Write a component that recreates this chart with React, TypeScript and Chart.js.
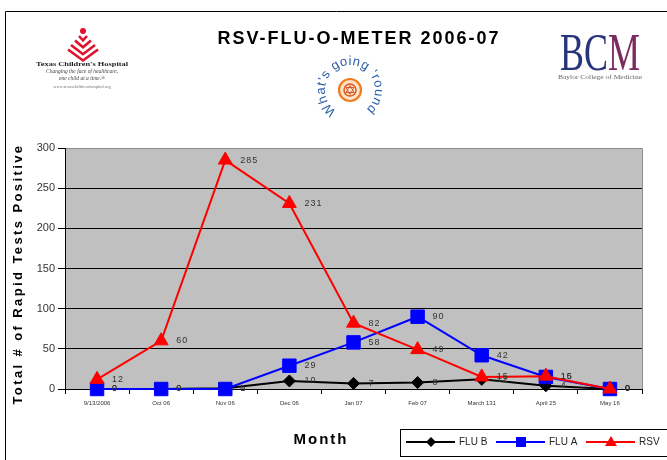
import React, { useEffect, useRef } from "react";
import { Chart, registerables } from "chart.js";
Chart.register(...registerables);

const categories = ["9/13/2006", "Oct 06", "Nov 06", "Dec 06", "Jan 07", "Feb 07", "March 131", "April 25", "May 16"];
const fluB = [0, 0, 1, 10, 7, 8, 12, 4, 0];
const fluA = [0, 0, 0, 29, 58, 90, 42, 15, 0];
const rsv = [12, 60, 285, 231, 82, 49, 15, 16, 0];
const yMin = 0;
const yMax = 300;
const yStep = 50;

const chartTitle = "RSV-FLU-O-METER 2006-07";
const yTitle = "Total # of Rapid Tests Positive";
const xTitle = "Month";
const seriesNames = ["FLU B", "FLU A", "RSV"];
const seriesColors = ["#000000", "#0000FF", "#FF0000"];

const bgPlugin = {
  id: "bgPlot",
  beforeDraw(chart: any) {
    const { ctx, chartArea: a } = chart;
    ctx.save();
    ctx.fillStyle = "#ffffff";
    ctx.fillRect(0, 0, chart.width, chart.height);
    ctx.fillStyle = "#C0C0C0";
    ctx.fillRect(a.left, a.top, a.right - a.left, a.bottom - a.top);
    ctx.strokeStyle = "#8c8c8c";
    ctx.lineWidth = 1;
    ctx.beginPath();
    ctx.moveTo(a.left, a.top + 0.5);
    ctx.lineTo(a.right + 0.5, a.top + 0.5);
    ctx.lineTo(a.right + 0.5, a.bottom);
    ctx.stroke();
    ctx.restore();
  },
};

const valueLabelPlugin = {
  id: "valueLabels",
  afterDatasetsDraw(chart: any) {
    const { ctx } = chart;
    ctx.save();
    ctx.font = "9px 'Liberation Sans', Arial, sans-serif";
    (ctx as any).letterSpacing = "1px";
    ctx.fillStyle = "#333333";
    ctx.textAlign = "left";
    ctx.textBaseline = "middle";
    chart.data.datasets.forEach((ds: any, i: number) => {
      const meta = chart.getDatasetMeta(i);
      meta.data.forEach((el: any, j: number) => {
        ctx.fillText(String(ds.data[j]), el.x + 15, el.y);
      });
    });
    ctx.restore();
  },
};

function drawMarker(ctx: CanvasRenderingContext2D, kind: number, x: number, y: number, color: string) {
  ctx.fillStyle = color;
  ctx.beginPath();
  if (kind === 0) {
    ctx.moveTo(x, y - 5);
    ctx.lineTo(x + 5, y);
    ctx.lineTo(x, y + 5);
    ctx.lineTo(x - 5, y);
  } else if (kind === 1) {
    ctx.rect(x - 5, y - 5, 10, 10);
  } else {
    ctx.moveTo(x, y - 6);
    ctx.lineTo(x + 6, y + 4);
    ctx.lineTo(x - 6, y + 4);
  }
  ctx.closePath();
  ctx.fill();
}

const decorPlugin = {
  id: "decor",
  afterDraw(chart: any) {
    const { ctx } = chart;
    ctx.save();
    ctx.strokeStyle = "#000";
    ctx.lineWidth = 1;
    ctx.beginPath();
    ctx.moveTo(5.5, 470);
    ctx.lineTo(5.5, 11.5);
    ctx.lineTo(680, 11.5);
    ctx.stroke();

    ctx.fillStyle = "#000";
    ctx.font = "bold 18px 'Liberation Sans', Arial, sans-serif";
    (ctx as any).letterSpacing = "2px";
    ctx.textAlign = "center";
    ctx.textBaseline = "middle";
    ctx.fillText(chartTitle, 359, 39);

    ctx.save();
    ctx.translate(18, 274);
    ctx.rotate(-Math.PI / 2);
    ctx.font = "bold 13px 'Liberation Sans', Arial, sans-serif";
    (ctx as any).letterSpacing = "2.4px";
    ctx.fillText(yTitle, 0, 0);
    ctx.restore();

    ctx.font = "bold 15px 'Liberation Sans', Arial, sans-serif";
    (ctx as any).letterSpacing = "2px";
    ctx.fillText(xTitle, 321, 440);

    (ctx as any).letterSpacing = "0px";
    ctx.strokeStyle = "#000";
    ctx.strokeRect(400.5, 429.5, 300, 27);
    const lx = [406, 496, 586];
    ctx.font = "10px 'Liberation Sans', Arial, sans-serif";
    ctx.textAlign = "left";
    for (let i = 0; i < 3; i++) {
      ctx.strokeStyle = seriesColors[i];
      ctx.lineWidth = 2;
      ctx.beginPath();
      ctx.moveTo(lx[i], 442);
      ctx.lineTo(lx[i] + 49, 442);
      ctx.stroke();
      drawMarker(ctx, i, lx[i] + 25, 442, seriesColors[i]);
      ctx.fillStyle = "#222";
      ctx.fillText(seriesNames[i], lx[i] + 53, 442);
    }
    ctx.restore();
  },
};

export default function App() {
  const ref = useRef<HTMLCanvasElement>(null);
  useEffect(() => {
    const chart = new Chart(ref.current as HTMLCanvasElement, {
      type: "line",
      data: {
        labels: categories,
        datasets: [
          {
            label: seriesNames[0],
            data: fluB,
            borderColor: seriesColors[0],
            backgroundColor: seriesColors[0],
            borderWidth: 2,
            pointStyle: "rectRot",
            pointRadius: 6,
            pointBorderWidth: 1,
            tension: 0,
            clip: false,
            order: 3,
          },
          {
            label: seriesNames[1],
            data: fluA,
            borderColor: seriesColors[1],
            backgroundColor: seriesColors[1],
            borderWidth: 2,
            pointStyle: "rect",
            pointRadius: 9.5,
            pointBorderWidth: 1,
            tension: 0,
            clip: false,
            order: 2,
          },
          {
            label: seriesNames[2],
            data: rsv,
            borderColor: seriesColors[2],
            backgroundColor: seriesColors[2],
            borderWidth: 2,
            pointStyle: "triangle",
            pointRadius: 8,
            pointBorderWidth: 1,
            tension: 0,
            clip: false,
            order: 1,
          },
        ] as any,
      },
      options: {
        animation: false,
        responsive: false,
        devicePixelRatio: 1,
        layout: { padding: { left: 15, right: 25, top: 148, bottom: 41 } },
        plugins: { legend: { display: false }, tooltip: { enabled: false }, title: { display: false } },
        scales: {
          x: {
            type: "category",
            offset: true,
            grid: { offset: true, drawOnChartArea: false, drawTicks: true, tickLength: 5, color: "#000" },
            border: { color: "#000", width: 1 },
            ticks: {
              font: { size: 6, family: "'Liberation Sans', Arial, sans-serif" },
              color: "#333",
              padding: 6,
              maxRotation: 0,
              autoSkip: false,
            },
            afterFit: (s: any) => {
              s.height = 30;
            },
          },
          y: {
            min: yMin,
            max: yMax,
            ticks: {
              stepSize: yStep,
              font: { size: 11, family: "'Liberation Sans', Arial, sans-serif" },
              color: "#333",
              padding: 3,
            },
            grid: {
              color: (c: any) => (c.tick && c.tick.value === yMax ? "#8c8c8c" : "#000"),
              tickColor: "#000",
              tickLength: 7,
              lineWidth: 1,
            },
            border: { color: "#000", width: 1 },
            afterFit: (s: any) => {
              s.width = 50;
            },
          },
        } as any,
      },
      plugins: [bgPlugin, valueLabelPlugin, decorPlugin],
    });
    return () => chart.destroy();
  }, []);

  const cx = 350;
  const cy = 90;
  const r = 25;
  const a1 = (122 * Math.PI) / 180;
  const a2 = (58 * Math.PI) / 180;
  const arcPath = `M ${cx + r * Math.cos(a1)} ${cy + r * Math.sin(a1)} A ${r} ${r} 0 1 1 ${cx + r * Math.cos(a2)} ${cy + r * Math.sin(a2)}`;

  return (
    <div style={{ position: "absolute", left: 0, top: 0, width: 667, height: 460, overflow: "hidden", background: "#fff" }}>
      <canvas ref={ref} width={667} height={460} style={{ position: "absolute", left: 0, top: 0 }} />
      <svg width={667} height={140} style={{ position: "absolute", left: 0, top: 0, pointerEvents: "none" }}>
        <circle cx={83} cy={31} r={3} fill="#E0112B" />
        {[4, 8, 12, 15].map((w, i) => {
          const yt = 36 + i * 4.5;
          return (
            <path
              key={i}
              d={`M ${83 - w} ${yt} L 83 ${yt + w * 0.6 + 2} L ${83 + w} ${yt}`}
              fill="none"
              stroke="#E0112B"
              strokeWidth={2.6}
            />
          );
        })}
        <text x={82} y={66} textAnchor="middle" fontFamily="'Liberation Serif', serif" fontWeight="bold" fontSize={6.5} fill="#222" textLength={92} lengthAdjust="spacingAndGlyphs">
          Texas Children's Hospital
        </text>
        <text x={82} y={73} textAnchor="middle" fontFamily="'Liberation Serif', serif" fontStyle="italic" fontSize={5.5} fill="#444">
          Changing the face of healthcare,
        </text>
        <text x={82} y={80} textAnchor="middle" fontFamily="'Liberation Serif', serif" fontStyle="italic" fontSize={5.5} fill="#444">
          one child at a time.®
        </text>
        <text x={82} y={88} textAnchor="middle" fontFamily="'Liberation Serif', serif" fontSize={4.5} fill="#777">
          www.texaschildrenshospital.org
        </text>

        <defs>
          <path id="roundArc" d={arcPath} />
        </defs>
        <text fontFamily="'Liberation Sans', Arial, sans-serif" fontSize={13} fill="#2A5EA8" letterSpacing="0.6">
          <textPath href="#roundArc" startOffset="0">
            What's going 'round
          </textPath>
        </text>
        <circle cx={cx} cy={cy} r={11} fill="#FDE3C8" stroke="#EE7A22" strokeWidth={2.2} />
        <circle cx={cx} cy={cy} r={6} fill="none" stroke="#E2571B" strokeWidth={1.5} />
        <path d={`M ${cx - 4} ${cy + 2.5} L ${cx} ${cy - 4.5} L ${cx + 4} ${cy + 2.5} Z M ${cx - 4} ${cy - 2.5} L ${cx} ${cy + 4.5} L ${cx + 4} ${cy - 2.5} Z`} fill="none" stroke="#C8401A" strokeWidth={0.8} />

        <text x={560} y={70} fontFamily="'Liberation Serif', 'Times New Roman', serif" fontSize={52} textLength={80} lengthAdjust="spacingAndGlyphs">
          <tspan fill="#27357A">BC</tspan>
          <tspan fill="#7B2C5E">M</tspan>
        </text>
        <text x={600} y={79} textAnchor="middle" fontFamily="'Liberation Serif', serif" fontSize={6.5} fill="#666" textLength={84} lengthAdjust="spacingAndGlyphs">
          Baylor College of Medicine
        </text>
      </svg>
    </div>
  );
}
